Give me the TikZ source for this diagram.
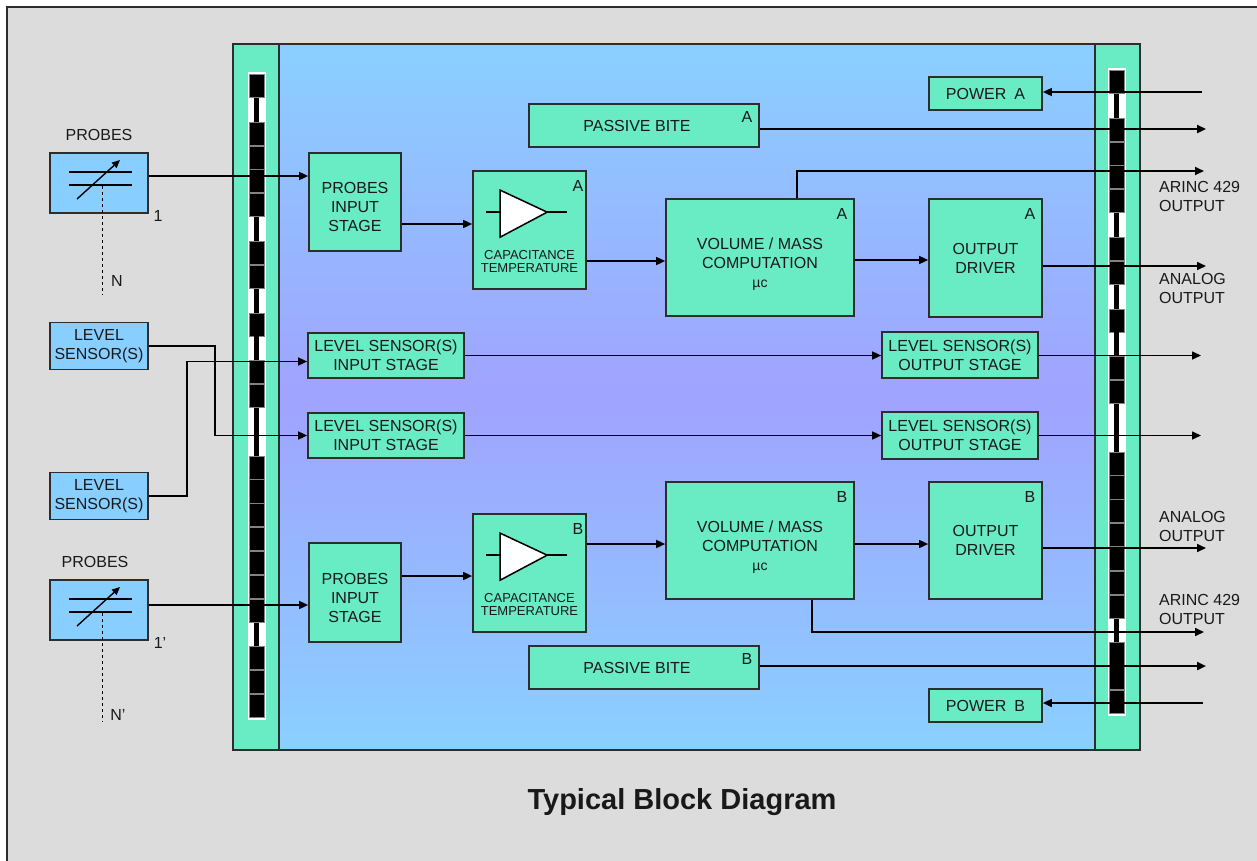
\documentclass[tikz,border=0pt]{standalone}
\usepackage{fontspec}
\setmainfont{Liberation Sans}
\usetikzlibrary{arrows.meta,calc}
\definecolor{bggray}{RGB}{220,220,220}
\definecolor{grn}{RGB}{105,235,195}
\definecolor{lblue}{RGB}{136,206,255}
\definecolor{topblue}{RGB}{138,208,255}
\definecolor{midviolet}{RGB}{160,163,255}
\definecolor{txt}{RGB}{25,25,25}
\definecolor{edge}{RGB}{45,45,45}
\definecolor{blkedge}{RGB}{130,130,130}
\begin{document}
\begin{tikzpicture}[x=1pt,y=-1pt,
  lbl/.style={font=\fontsize{16}{19}\selectfont,text=txt,inner sep=0pt},
  box/.style={draw=edge,line width=1.7pt,fill=grn,inner sep=0pt,align=center,text=txt,font=\fontsize{16}{19}\selectfont},
  sensor/.style={box,fill=lblue},
  conn/.style={draw=black,line width=1.6pt,-{Triangle[length=9pt,width=8pt]}},
  wire/.style={draw=black,line width=1.5pt},
  corner/.style={label={[lbl,anchor=center,xshift=-13pt,yshift=-16pt]north east:#1}},
  ccorner/.style={label={[lbl,anchor=center,xshift=-9pt,yshift=-16pt]north east:#1}},
  pcorner/.style={label={[lbl,anchor=center,xshift=-13pt,yshift=-14pt]north east:#1}},
  captxt/.style={font=\fontsize{13}{13}\selectfont,text=txt,align=center,inner sep=0pt},
  dots/.style={draw=black,line width=1pt,dash pattern=on 3pt off 3pt},
]
\useasboundingbox (0,0) rectangle (1257,860);
\clip (0,0) rectangle (1257,860);
\fill[white] (0,0) rectangle (1257,860);
\draw[fill=bggray,draw=edge,line width=2pt] (7,7) rectangle (1275,885);

% main unit
\shade[top color=topblue,bottom color=topblue,middle color=midviolet] (279,44) rectangle (1095,750);
\fill[grn] (233,44) rectangle (279,750);
\fill[grn] (1095,44) rectangle (1140,750);
\draw[edge,line width=1.7pt] (233,44) rectangle (1140,750);
\draw[edge,line width=1.7pt] (279,44) -- (279,750) (1095,44) -- (1095,750);

% connector strips
\foreach \cx/\sy in {256.5/74, 1116.5/70}{
  \fill[white] (\cx-9,\sy-2) rectangle (\cx+9,\sy+27*23.85+2);
  \foreach \i in {0,2,3,4,5,7,8,10,12,13,16,17,18,19,20,21,22,24,25,26}
    \filldraw[fill=black,draw=blkedge,line width=0.8pt] (\cx-7.5,\sy+\i*23.85+0.4) rectangle (\cx+7.5,\sy+\i*23.85+23.45);
  \foreach \i in {1,6,9,11,14,15,23}
    \fill[black] (\cx-2.5,\sy+\i*23.85) rectangle (\cx+2.5,\sy+\i*23.85+23.85);
}

% external sensors
\node[lbl] (probesA) at (99,135) {PROBES};
\node[sensor,minimum width=98pt,minimum height=60pt] (probeA) at (99,183) {};
\node[lbl] (oneA) at (158,216) {1};
\node[lbl] (nA) at (117,281) {N};
\node[lbl] (probesB) at (95,562) {PROBES};
\node[sensor,minimum width=98pt,minimum height=60pt] (probeB) at (99,610) {};
\node[lbl] (oneB) at (160,643) {1'};
\node[lbl] (nB) at (118,715) {N'};
\node[sensor,minimum width=98pt,minimum height=47pt] (ls1) at (99,346) {LEVEL\\SENSOR(S)};
\node[sensor,minimum width=98pt,minimum height=47pt] (ls2) at (99,496) {LEVEL\\SENSOR(S)};

% capacitor symbols
\foreach \p in {probeA,probeB}{
  \draw[wire] ($(\p.center)+(-30,-11)$) -- ++(63,0);
  \draw[wire] ($(\p.center)+(-30,2)$) -- ++(63,0);
  \draw[line width=1.4pt,-{Triangle[length=8pt,width=7pt]}] ($(\p.center)+(-22,16)$) -- ($(\p.center)+(21,-23)$);
  \draw[dots] ($(\p.center)+(3,3)$) -- ($(\p.center)+(3,112)$);
}

% internal blocks
\node[box,minimum width=230pt,minimum height=43pt,pcorner=A] (pbA) at (644,125.5) {PASSIVE BITE\hspace*{14pt}};
\node[box,minimum width=113pt,minimum height=33pt] (powA) at (985.5,93.5) {POWER\enspace A};
\node[box,minimum width=92pt,minimum height=98pt] (pisA) at (355,202) {\rule{0pt}{21.5pt}PROBES\\INPUT\\STAGE};
\node[box,minimum width=113pt,minimum height=118pt,ccorner=A] (capA) at (529.5,230) {};
\node[box,minimum width=188pt,minimum height=117pt,corner=A] (vmcA) at (760,257.5) {\rule{0pt}{24pt}VOLUME / MASS\\COMPUTATION\\{\fontsize{14}{20}\selectfont µc}};
\node[box,minimum width=113pt,minimum height=118pt,corner=A] (odA) at (985.5,258) {OUTPUT\\DRIVER};
\node[box,minimum width=156pt,minimum height=45pt] (lsiA) at (386,355.5) {LEVEL SENSOR(S)\\INPUT STAGE};
\node[box,minimum width=156pt,minimum height=46pt] (lsoA) at (960,355) {LEVEL SENSOR(S)\\OUTPUT STAGE};
\node[box,minimum width=156pt,minimum height=45pt] (lsiB) at (386,435.5) {LEVEL SENSOR(S)\\INPUT STAGE};
\node[box,minimum width=156pt,minimum height=47pt] (lsoB) at (960,435.5) {LEVEL SENSOR(S)\\OUTPUT STAGE};
\node[box,minimum width=92pt,minimum height=99pt] (pisB) at (355,592.5) {\rule{0pt}{21.5pt}PROBES\\INPUT\\STAGE};
\node[box,minimum width=113pt,minimum height=118pt,ccorner=B] (capB) at (529.5,573) {};
\node[box,minimum width=188pt,minimum height=117pt,corner=B] (vmcB) at (760,540.5) {\rule{0pt}{24pt}VOLUME / MASS\\COMPUTATION\\{\fontsize{14}{20}\selectfont µc}};
\node[box,minimum width=113pt,minimum height=117pt,corner=B] (odB) at (985.5,540.5) {OUTPUT\\DRIVER};
\node[box,minimum width=230pt,minimum height=43pt,pcorner=B] (pbB) at (644,667.5) {PASSIVE BITE\hspace*{14pt}};
\node[box,minimum width=113pt,minimum height=33pt] (powB) at (985.5,705.5) {POWER\enspace B};

% amplifier symbols and captions
\foreach \c in {capA,capB}{
  \draw[wire] ($(\c.north west)+(14,42)$) -- ++(14,0);
  \draw[wire] ($(\c.north west)+(75,42)$) -- ++(20,0);
  \draw[wire,fill=white,line join=miter] ($(\c.north west)+(28,20)$) -- ($(\c.north west)+(75,42)$) -- ($(\c.north west)+(28,67)$) -- cycle;
}
\node[captxt] (capAt) at ($(capA.north)+(0,91.5)$) {CAPACITANCE\\TEMPERATURE};
\node[captxt] (capBt) at ($(capB.north)+(0,91.5)$) {CAPACITANCE\\TEMPERATURE};

% output labels
\node[lbl,align=left,anchor=west] (arincA) at (1159,196.5) {ARINC 429\\OUTPUT};
\node[lbl,align=left,anchor=west] (analogA) at (1159,288.5) {ANALOG\\OUTPUT};
\node[lbl,align=left,anchor=west] (analogB) at (1159,526) {ANALOG\\OUTPUT};
\node[lbl,align=left,anchor=west] (arincB) at (1159,609) {ARINC 429\\OUTPUT};

% chain A
\draw[conn] ([yshift=7pt]probeA.east) -- ([yshift=7pt]probeA.east -| pisA.west);
\draw[conn] ([yshift=-22pt]pisA.east) -- ([yshift=-22pt]pisA.east -| capA.west);
\draw[conn] ([yshift=-31pt]capA.east) -- ([yshift=-31pt]capA.east -| vmcA.west);
\draw[conn] ([yshift=-2.5pt]vmcA.east) -- ([yshift=-2.5pt]vmcA.east -| odA.west);
\coordinate (outAnA) at (1206,266);
\draw[conn] (odA.east |- outAnA) -- (outAnA);
\coordinate (outArA) at (1204,171);
\draw[conn] ([xshift=37pt]vmcA.north) |- (outArA);
\coordinate (outPbA) at (1206,129);
\draw[conn,line width=2.2pt] (pbA.east |- outPbA) -- (outPbA);
\coordinate (inPwA) at (1202,92);
\draw[conn] (inPwA) -- (inPwA -| powA.east);

% level sensors
\draw[conn] (ls1.east) -- ++(66,0) |- (lsiB.west);
\draw[conn] (ls2.east) -- ++(38,0) |- ([yshift=-6pt]lsiA.west);
\draw[conn] (lsiA.east) -- (lsiA.east -| lsoA.west);
\coordinate (outLsA) at (1201,355.5);
\draw[conn] (lsoA.east |- outLsA) -- (outLsA);
\draw[conn] (lsiB.east) -- (lsiB.east -| lsoB.west);
\coordinate (outLsB) at (1201,435.5);
\draw[conn] (lsoB.east |- outLsB) -- (outLsB);

% chain B
\draw[conn] ([yshift=5pt]probeB.east) -- ([yshift=5pt]probeB.east -| pisB.west);
\draw[conn] ([yshift=16.5pt]pisB.east) -- ([yshift=16.5pt]pisB.east -| capB.west);
\draw[conn] ([yshift=29pt]capB.east) -- ([yshift=29pt]capB.east -| vmcB.west);
\draw[conn] ([yshift=-3.5pt]vmcB.east) -- ([yshift=-3.5pt]vmcB.east -| odB.west);
\coordinate (outAnB) at (1206,548);
\draw[conn] (odB.east |- outAnB) -- (outAnB);
\coordinate (outArB) at (1204,632);
\draw[conn] ([xshift=52pt]vmcB.south) |- (outArB);
\coordinate (outPbB) at (1206,666);
\draw[conn,line width=2.2pt] (pbB.east |- outPbB) -- (outPbB);
\coordinate (inPwB) at (1203,703);
\draw[conn] (inPwB) -- (inPwB -| powB.east);

% title
\node[font=\bfseries\fontsize{29}{34}\selectfont,text=txt] (title) at (682,802) {Typical Block Diagram};
\end{tikzpicture}
\end{document}
